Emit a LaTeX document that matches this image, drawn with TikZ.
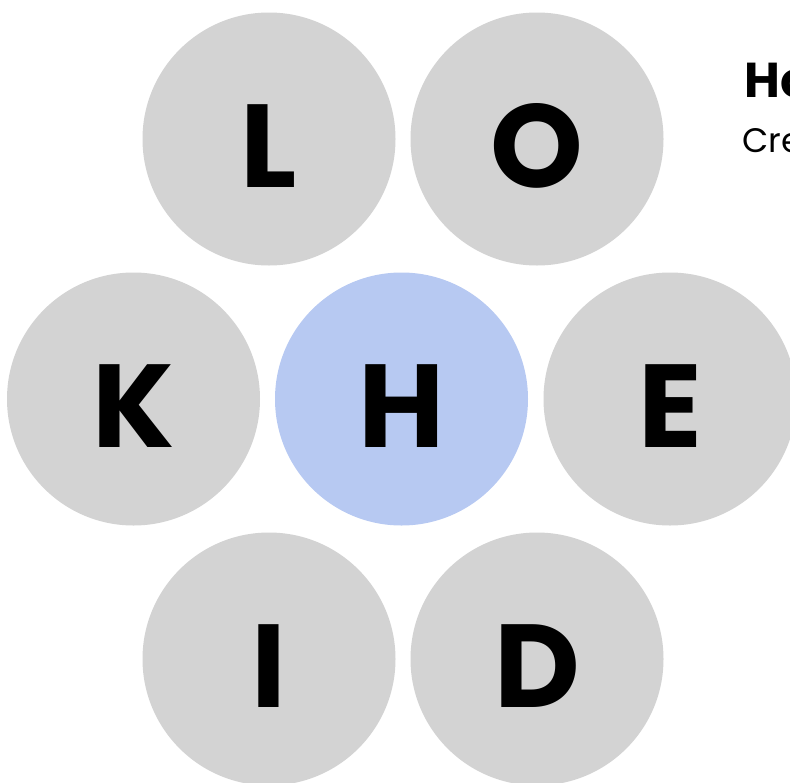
\documentclass[tikz,border=0pt]{standalone}
\usepackage{fontspec}
\setmainfont{Poppins}
\usepackage{xcolor}
\usepackage{tikz}
\definecolor{tileGray}{HTML}{D3D3D3}
\definecolor{tileBlue}{HTML}{B7C9F2}
\tikzset{
  tile/.style={circle,fill=tileGray,minimum size=253pt,inner sep=0pt,
    font=\fontsize{118}{118}\selectfont\bfseries,text height=96pt,text depth=0pt},
  centre/.style={tile,fill=tileBlue}
}

\begin{document}
\begin{tikzpicture}[x=1pt,y=-1pt]
\useasboundingbox (0,0) rectangle (790,782);
% outer ring of letters
\node[tile] (L) at (269,139) {L};
\node[tile] (O) at (537,139) {O};
\node[tile] (K) at (133.5,399) {K};
\node[tile] (E) at (670,399) {E};
\node[tile] (I) at (269,659) {I};
\node[tile] (D) at (537,659) {D};
% centre letter
\node[centre] (H) at (401.5,399) {H};
% heading, cut off at the right edge
\node[anchor=base west,inner sep=0pt,font=\fontsize{49}{49}\selectfont\bfseries] (title) at (744,97) {Ho};
\node[anchor=base west,inner sep=0pt,font=\fontsize{34}{34}\selectfont] (sub) at (742,152) {Cre};
\end{tikzpicture}
\end{document}
